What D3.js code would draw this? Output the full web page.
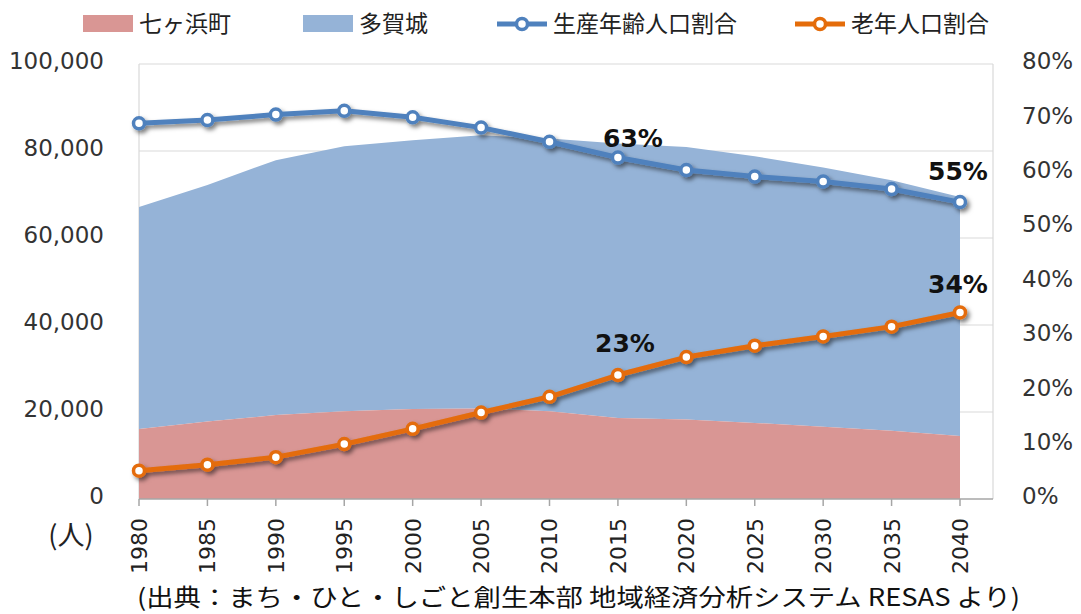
<!DOCTYPE html>
<html><head><meta charset="utf-8">
<script src="https://cdn.jsdelivr.net/npm/d3@7"></script>
<style>
body{margin:0;background:#fff;}
svg{display:block;}
</style></head>
<body>
<svg id="chart" width="1081" height="614"></svg>
<script>
const years = [1980,1985,1990,1995,2000,2005,2010,2015,2020,2025,2030,2035,2040];
const shichigahama = [16100,17800,19300,20200,20700,20800,20200,18600,18300,17500,16600,15700,14500];
const tagajo = [51000,54400,58600,60900,61800,62800,62700,63100,62600,61300,59600,57600,54900];
const workingAgeRatio = [69.1,69.7,70.7,71.4,70.2,68.3,65.7,62.8,60.5,59.3,58.4,57.0,54.6];
const elderlyRatio = [5.2,6.3,7.7,10.1,12.9,15.9,18.8,22.8,26.1,28.2,29.9,31.7,34.3];
const leftTicks = [0,20000,40000,60000,80000,100000];
const rightTicks = [0,10,20,30,40,50,60,70,80];
const seriesNames = ["七ヶ浜町","多賀城","生産年齢人口割合","老年人口割合"];
const pointLabels = [
  {series:"work", year:2015, text:"63%"},
  {series:"work", year:2040, text:"55%"},
  {series:"old", year:2015, text:"23%"},
  {series:"old", year:2040, text:"34%"}
];
const sourceText = "(出典：まち・ひと・しごと創生本部  地域経済分析システム RESAS より)";

(function(){
const colors = {pink:"#d99694", blue:"#95b3d7", lineBlue:"#4f81bd", lineOrange:"#e46c0a"};
const numFont = "'DejaVu Sans', Verdana, sans-serif";
const cjkFont = "'Noto Sans CJK JP', sans-serif";

const svg = d3.select("#chart");
const pL = 139, pR = 993, pT = 64, pB = 499;
const x = d3.scaleLinear().domain([1980,2040]).range([139,960]);
const yL = d3.scaleLinear().domain([0,100000]).range([pB, pT]);
const yR = d3.scaleLinear().domain([0,80]).range([pB, pT]);

const defs = svg.append("defs");
const f = defs.append("filter").attr("id","shadow").attr("x","-10%").attr("y","-30%").attr("width","130%").attr("height","170%");
f.append("feDropShadow").attr("dx",2.5).attr("dy",3).attr("stdDeviation",2.2).attr("flood-color","#000").attr("flood-opacity",0.5);

svg.append("g").selectAll("line").data(leftTicks.filter(d=>d>0)).join("line")
  .attr("x1",pL).attr("x2",pR).attr("y1",d=>yL(d)).attr("y2",d=>yL(d))
  .attr("stroke","#d9d9d9").attr("stroke-width",1.2);
svg.append("line").attr("x1",pL).attr("x2",pL).attr("y1",pT).attr("y2",pB).attr("stroke","#d9d9d9").attr("stroke-width",1.2);
svg.append("line").attr("x1",pR).attr("x2",pR).attr("y1",pT).attr("y2",pB).attr("stroke","#d9d9d9").attr("stroke-width",1.2);

const data = years.map((y,i)=>({year:y, s:shichigahama[i], t:tagajo[i]}));
const stack = d3.stack().keys(["s","t"])(data);
const area = d3.area().x(d=>x(d.data.year)).y0(d=>yL(d[0])).y1(d=>yL(d[1]));
svg.append("path").datum(stack[1]).attr("d",area).attr("fill",colors.blue);
svg.append("path").datum(stack[0]).attr("d",area).attr("fill",colors.pink);

const xAxis = svg.append("g").attr("transform",`translate(0,${pB})`);
xAxis.append("line").attr("x1",pL).attr("x2",pR).attr("stroke","#a6a6a6").attr("stroke-width",1.5);
xAxis.selectAll(".tk").data(years).join("line").attr("class","tk").attr("x1",d=>x(d)).attr("x2",d=>x(d)).attr("y1",0).attr("y2",7).attr("stroke","#a6a6a6").attr("stroke-width",1.5);
xAxis.selectAll("text").data(years).join("text")
  .attr("transform",d=>`translate(${x(d)},19) rotate(-90)`)
  .attr("text-anchor","end").attr("dy","0.36em")
  .attr("font-family",numFont).attr("font-size",22).attr("fill","#222")
  .text(d=>d);

svg.append("g").selectAll("text").data(leftTicks).join("text")
  .attr("x",104).attr("y",d=>yL(d)).attr("dy","0.23em")
  .attr("text-anchor","end").attr("font-family",numFont).attr("font-size",23).attr("fill","#333")
  .text(d=>d3.format(",")(d));
svg.append("g").selectAll("text").data(rightTicks).join("text")
  .attr("x",1022).attr("y",d=>yR(d)).attr("dy","0.23em")
  .attr("text-anchor","start").attr("font-family",numFont).attr("font-size",23).attr("fill","#333")
  .text(d=>d+"%");
svg.append("text").attr("x",71).attr("y",545).attr("text-anchor","middle").attr("font-family",cjkFont).attr("font-size",27).attr("fill","#222").text("(人)");

function drawLine(vals, color){
  const g = svg.append("g").attr("filter","url(#shadow)");
  const ln = d3.line().x((d,i)=>x(years[i])).y(d=>yR(d));
  g.append("path").datum(vals).attr("d",ln).attr("fill","none").attr("stroke",color).attr("stroke-width",5).attr("stroke-linejoin","round");
  g.selectAll("circle").data(vals).join("circle").attr("cx",(d,i)=>x(years[i])).attr("cy",d=>yR(d)).attr("r",5.5)
    .attr("fill","#fff").attr("stroke",color).attr("stroke-width",3.5);
}
drawLine(workingAgeRatio, colors.lineBlue);
drawLine(elderlyRatio, colors.lineOrange);

const lblOffset = {"work-2015":[15,-11],"work-2040":[-2,-22],"old-2015":[7,-23],"old-2040":[-2,-19]};
svg.append("g").selectAll("text").data(pointLabels).join("text")
  .attr("x",d=>x(d.year)+lblOffset[d.series+"-"+d.year][0])
  .attr("y",d=>{const i=years.indexOf(d.year);const v=d.series==="work"?workingAgeRatio[i]:elderlyRatio[i];return yR(v)+lblOffset[d.series+"-"+d.year][1];})
  .attr("text-anchor","middle").attr("font-family",numFont).attr("font-weight","bold").attr("font-size",25).attr("fill","#111")
  .text(d=>d.text);

const leg = svg.append("g");
const legItems = [
  {name:seriesNames[0], type:"rect", color:colors.pink, x:83},
  {name:seriesNames[1], type:"rect", color:colors.blue, x:303},
  {name:seriesNames[2], type:"line", color:colors.lineBlue, x:497},
  {name:seriesNames[3], type:"line", color:colors.lineOrange, x:795}
];
legItems.forEach(it=>{
  if(it.type==="rect"){
    leg.append("rect").attr("x",it.x).attr("y",15).attr("width",50).attr("height",17).attr("fill",it.color);
  } else {
    leg.append("line").attr("x1",it.x).attr("x2",it.x+50).attr("y1",24).attr("y2",24).attr("stroke",it.color).attr("stroke-width",5);
    leg.append("circle").attr("cx",it.x+25).attr("cy",24).attr("r",5.5).attr("fill","#fff").attr("stroke",it.color).attr("stroke-width",3.5);
  }
  leg.append("text").attr("x",it.x+56).attr("y",32).attr("font-family",cjkFont).attr("font-size",23).attr("fill","#222").text(it.name);
});

svg.append("text").attr("x",137).attr("y",606).attr("font-family",cjkFont).attr("font-size",24).attr("fill","#111")
  .attr("textLength",883).attr("lengthAdjust","spacingAndGlyphs").text(sourceText);
})();
</script>
</body></html>
